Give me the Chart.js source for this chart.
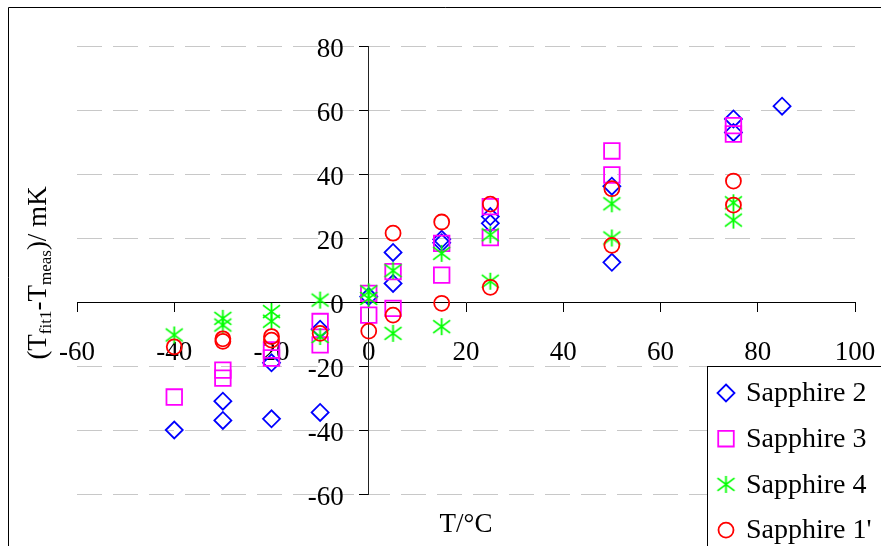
<!DOCTYPE html>
<html>
<head>
<meta charset="utf-8">
<script src="https://cdn.jsdelivr.net/npm/chart.js@4.4.1/dist/chart.umd.min.js"></script>
<style>
  html, body { margin: 0; padding: 0; background: #fff; }
  #chart { display: block; }
</style>
</head>
<body>
<canvas id="chart" width="881" height="546"></canvas>
<script>
// Fit residuals per sapphire sensor, x = temperature in °C, y = residual in mK
const xTicks = [-60, -40, -20, 0, 20, 40, 60, 80, 100];
const yTicks = [-60, -40, -20, 0, 20, 40, 60, 80];

const seriesNames = ['Sapphire 2', 'Sapphire 3', 'Sapphire 4', "Sapphire 1'"];

const s2Temp = [-40, -30, -30, -20, -20, -10, -10, 0, 5, 5, 15, 15, 25, 25, 50, 50, 75, 75, 85];
const s2Res  = [-40, -31, -37, -19, -36.5, -8.5, -34.5, 1.7, 15.5, 5.8, 19.6, 18.5, 26.7, 24.6, 36.2, 12.4, 57.2, 53, 61.2];

const s3Temp = [-40, -30, -30, -20, -20, -10, -10, 0, 0, 5, 5, 15, 15, 25, 25, 50, 50, 75, 75];
const s3Res  = [-29.7, -21.3, -23.8, -15, -17.5, -6.1, -13.4, 2.7, -4.1, 9.5, -2, 18.3, 8.4, 29.8, 20.1, 47.2, 39.7, 55.1, 52.5];

const s4Temp = [-40, -30, -30, -20, -20, -10, -10, 0, 0, 5, 5, 15, 15, 25, 25, 50, 50, 75, 75];
const s4Res  = [-10.3, -5.1, -7.2, -3, -6, 0.6, -10.8, 3.2, 1.1, 9.8, -9.8, 15.2, -7.7, 21, 6.5, 30.7, 20, 31, 25.6];

const s1Temp = [-40, -30, -30, -20, -20, -10, 0, 5, 5, 15, 15, 25, 25, 50, 50, 75, 75];
const s1Res  = [-14, -11.5, -12.3, -10.8, -11.9, -9.8, -9.1, 21.5, -4.1, 25, -0.4, 30.6, 4.6, 35.4, 17.7, 37.8, 30.3];

const FONT = "'Liberation Serif', 'Times New Roman', serif";

function pairs(xs, ys) {
  return xs.map((x, i) => ({ x, y: ys[i] }));
}

// Excel style star marker: an X plus a vertical bar
function makeStar(color, half, lw) {
  const c = document.createElement('canvas');
  const s = Math.ceil(half * 2 + lw * 2);
  c.width = s; c.height = s;
  const g = c.getContext('2d');
  const m = s / 2;
  g.strokeStyle = color;
  g.lineWidth = lw;
  g.beginPath();
  g.moveTo(m, m - half); g.lineTo(m, m + half);
  g.moveTo(m - half, m - half * 0.75); g.lineTo(m + half, m + half * 0.75);
  g.moveTo(m - half, m + half * 0.75); g.lineTo(m + half, m - half * 0.75);
  g.stroke();
  return c;
}

const starMarker = makeStar('#00ff00', 8.5, 1.8);

const datasets = [
  { label: seriesNames[0], data: pairs(s2Temp, s2Res), pointStyle: 'rectRot', pointRadius: 8.5,
    borderColor: '#0000ff', backgroundColor: 'rgba(0,0,0,0)', pointBorderWidth: 1.8, order: 3 },
  { label: seriesNames[1], data: pairs(s3Temp, s3Res), pointStyle: 'rect', pointRadius: 11,
    borderColor: '#ff00ff', backgroundColor: 'rgba(0,0,0,0)', pointBorderWidth: 1.8, order: 2 },
  { label: seriesNames[2], data: pairs(s4Temp, s4Res), pointStyle: starMarker, pointRadius: 9,
    borderColor: '#00ff00', backgroundColor: 'rgba(0,0,0,0)', pointBorderWidth: 1.8, order: 1 },
  { label: seriesNames[3], data: pairs(s1Temp, s1Res), pointStyle: 'circle', pointRadius: 7.5,
    borderColor: '#ff0000', backgroundColor: 'rgba(0,0,0,0)', pointBorderWidth: 1.8, order: 0 }
];

const framePlugin = {
  id: 'frame',
  beforeDraw(chart) {
    const ctx = chart.ctx;
    ctx.save();
    ctx.fillStyle = '#fff';
    ctx.fillRect(0, 0, chart.width, chart.height);
    ctx.strokeStyle = '#000';
    ctx.lineWidth = 1;
    ctx.beginPath();
    ctx.moveTo(8.5, chart.height + 5);
    ctx.lineTo(8.5, 7.5);
    ctx.lineTo(chart.width + 5, 7.5);
    ctx.stroke();
    ctx.restore();
    // y labels of a crossing axis sit on the axis line; push them left like Excel
    const ys = chart.scales.y;
    ys.getLabelItems(chart.chartArea).forEach(it => { it.options.translation[0] -= 25; });
  }
};

const titlePlugin = {
  id: 'axisTitles',
  afterDraw(chart) {
    const ctx = chart.ctx;
    ctx.save();
    ctx.fillStyle = '#000';
    ctx.textBaseline = 'alphabetic';
    // x title
    ctx.font = '27px ' + FONT;
    ctx.textAlign = 'center';
    const a = chart.chartArea;
    ctx.fillText('T/°C', (a.left + a.right) / 2, 532);
    // y title with subscripts
    const parts = [['(T', 27, 0], ['fit1', 17, 5], ['-T', 27, 0], ['meas', 17, 5], [')/ mK', 27, 0]];
    let total = 0;
    parts.forEach(p => { ctx.font = p[1] + 'px ' + FONT; total += ctx.measureText(p[0]).width; });
    ctx.translate(46, 273);
    ctx.rotate(-Math.PI / 2);
    ctx.textAlign = 'left';
    let x = -total / 2;
    parts.forEach(p => {
      ctx.font = p[1] + 'px ' + FONT;
      ctx.fillText(p[0], x, p[2]);
      x += ctx.measureText(p[0]).width;
    });
    ctx.restore();
  }
};

function drawMarker(ctx, ds, x, y) {
  ctx.save();
  ctx.strokeStyle = ds.borderColor;
  ctx.lineWidth = ds.pointBorderWidth;
  const r = ds.pointRadius;
  ctx.beginPath();
  if (ds.pointStyle === 'rectRot') {
    ctx.moveTo(x, y - r); ctx.lineTo(x + r, y); ctx.lineTo(x, y + r); ctx.lineTo(x - r, y); ctx.closePath();
    ctx.stroke();
  } else if (ds.pointStyle === 'rect') {
    const h = r * Math.SQRT1_2;
    ctx.rect(x - h, y - h, 2 * h, 2 * h);
    ctx.stroke();
  } else if (ds.pointStyle === 'circle') {
    ctx.arc(x, y, r, 0, Math.PI * 2);
    ctx.stroke();
  } else {
    const img = ds.pointStyle;
    ctx.drawImage(img, x - img.width / 2, y - img.height / 2);
  }
  ctx.restore();
}

const legendPlugin = {
  id: 'boxLegend',
  afterDraw(chart) {
    const ctx = chart.ctx;
    ctx.save();
    ctx.fillStyle = '#fff';
    ctx.fillRect(707.5, 366.5, 200, 200);
    ctx.strokeStyle = '#000';
    ctx.lineWidth = 1;
    ctx.strokeRect(707.5, 366.5, 200, 200);
    ctx.font = '28px ' + FONT;
    ctx.textAlign = 'left';
    ctx.textBaseline = 'middle';
    chart.data.datasets.forEach((ds, i) => {
      const y = 393 + i * 45.7;
      drawMarker(ctx, ds, 726, y);
      ctx.fillStyle = '#000';
      ctx.fillText(ds.label, 746, y + 1);
    });
    ctx.restore();
  }
};

new Chart(document.getElementById('chart').getContext('2d'), {
  type: 'scatter',
  data: { datasets },
  options: {
    responsive: false,
    animation: false,
    layout: { padding: { left: 77, right: 26, top: 46, bottom: 52 } },
    plugins: {
      legend: { display: false },
      tooltip: { enabled: false }
    },
    scales: {
      x: {
        type: 'linear',
        min: xTicks[0],
        max: xTicks[xTicks.length - 1],
        position: { y: 0 },
        afterFit: (s) => { s.height = 0; s.paddingLeft = 0; s.paddingRight = 0; },
        afterBuildTicks: (s) => { s.ticks = xTicks.map(v => ({ value: v })); },
        grid: { drawOnChartArea: false, drawTicks: true, tickLength: 9, tickColor: '#000', tickWidth: 1 },
        border: { display: true, color: '#000', width: 1 },
        ticks: { autoSkip: false, maxRotation: 0, padding: 26, color: '#000', font: { family: FONT, size: 27 } }
      },
      y: {
        type: 'linear',
        min: yTicks[0],
        max: yTicks[yTicks.length - 1],
        position: { x: 0 },
        afterFit: (s) => { s.width = 0; s.paddingTop = 0; s.paddingBottom = 0; },
        afterBuildTicks: (s) => { s.ticks = yTicks.map(v => ({ value: v })); },
        grid: { color: '#c8c8c8', lineWidth: 1, drawTicks: true, tickLength: 9, tickColor: '#000', tickWidth: 1, tickBorderDash: [] },
        border: { display: true, color: '#222', width: 1, dash: [25, 11] },
        ticks: { autoSkip: false, padding: 16, labelOffset: 4, color: '#000', font: { family: FONT, size: 27 } }
      }
    }
  },
  plugins: [framePlugin, titlePlugin, legendPlugin]
});
</script>
</body>
</html>
